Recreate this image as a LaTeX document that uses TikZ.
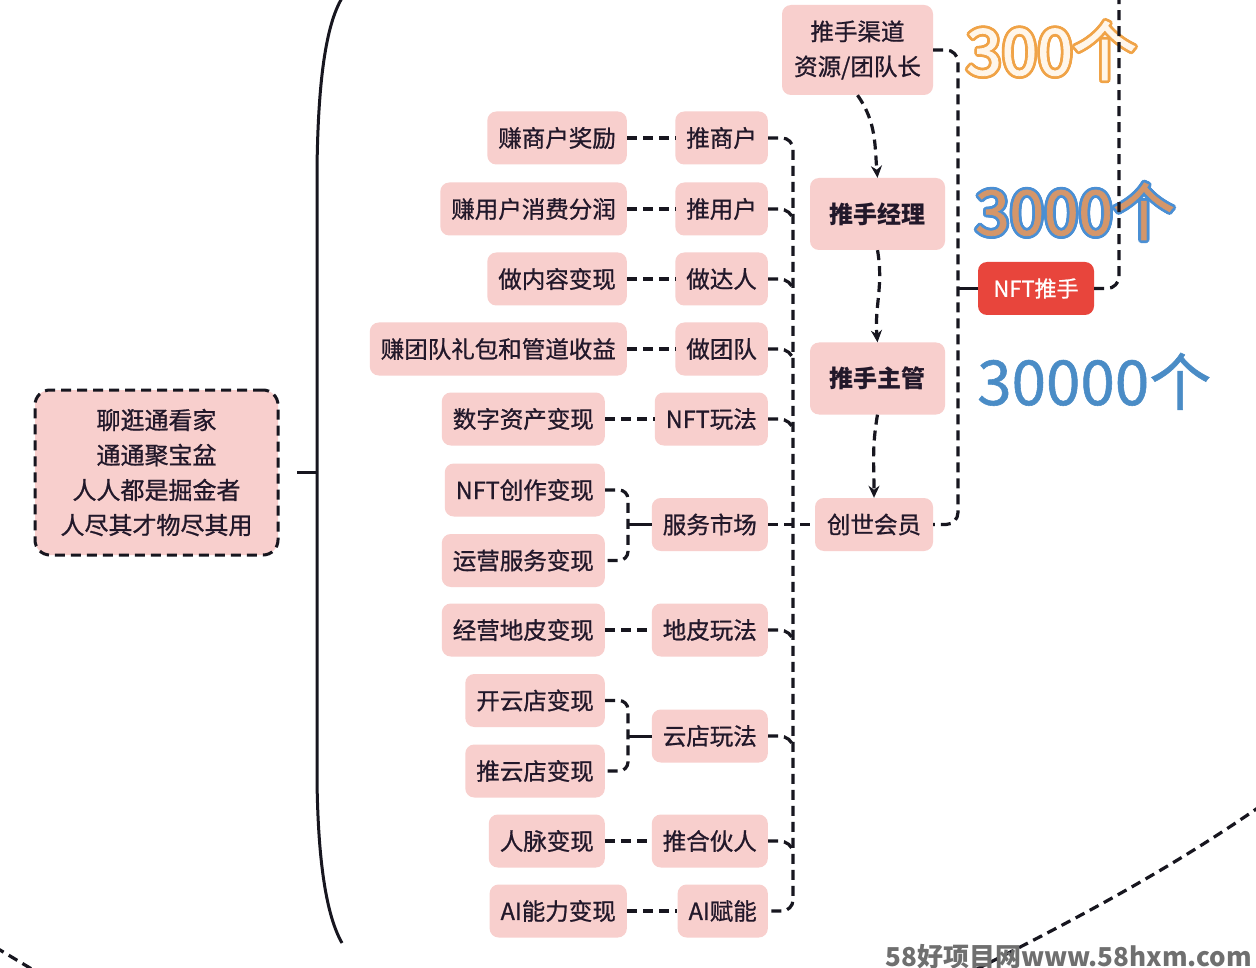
\documentclass[tikz,border=0pt]{standalone}
\usepackage{fontspec}
\setmainfont{Noto Sans CJK SC}
\newfontfamily\bodyf{Noto Sans CJK SC}[FakeBold=0.9]
\newfontfamily\numf{Noto Sans CJK SC}[FakeBold=1.2]
\usetikzlibrary{arrows.meta}
\definecolor{pinkc}{HTML}{F8CFCD}
\definecolor{txtc}{HTML}{22182A}
\definecolor{linec}{HTML}{17161F}
\definecolor{redc}{HTML}{E8453C}
\definecolor{orc}{HTML}{F0A347}
\definecolor{crm}{HTML}{FFF6EA}
\definecolor{bluc}{HTML}{4A8FD4}
\definecolor{tanc}{HTML}{D4966A}
\definecolor{blu2}{HTML}{4A8CC6}
\definecolor{wmc}{HTML}{6F6F6F}
\tikzset{
 pbox/.style={rectangle, rounded corners=9pt, fill=pinkc, text=txtc, minimum height=53pt, inner xsep=11pt, inner ysep=0pt, font=\bodyf\fontsize{23.5}{28}\selectfont},
 dl/.style={draw=linec, line width=3.2pt, dash pattern=on 10pt off 6pt},
 sl/.style={draw=linec, line width=3pt},
 arr/.style={dl, -{Stealth[length=12pt,width=11pt]}},
 bignum/.style={anchor=base west, inner sep=0pt, font=\numf\fontsize{64}{70}\selectfont},
}
\begin{document}
\begin{tikzpicture}[x=1pt,y=-1pt]
\fill[white] (0,0) rectangle (1256,968);
\useasboundingbox (0,0) rectangle (1256,968);

% big numbers
\coordinate (p300) at (966,75);
\foreach \a in {0,30,...,330} \node[bignum, text=orc, shift={(\a:2.8pt)}] at (p300) {300个};
\node[bignum, text=crm] (n300) at (p300) {300个};
\coordinate (p3000) at (975,235);
\foreach \a in {0,30,...,330} \node[bignum, text=bluc, font=\numf\fontsize{62}{66}\selectfont, shift={(\a:2.8pt)}] at (p3000) {3000个};
\node[bignum, text=tanc, font=\numf\fontsize{62}{66}\selectfont] (n3000) at (p3000) {3000个};
\node[bignum, text=blu2, font=\bodyf\fontsize{62}{66}\selectfont] (n30000) at (977,405) {30000个};

% root
\node[pbox, draw=linec, line width=3pt, dash pattern=on 10pt off 6pt, rounded corners=15pt, align=center, minimum width=243pt, minimum height=165pt, font=\bodyf\fontsize{24}{35}\selectfont] (root) at (156.5,472.5) {聊逛通看家\\通通聚宝盆\\人人都是掘金者\\人尽其才物尽其用};

% middle column
\node[pbox, anchor=east] (tsh) at (768,138) {推商户};
\node[pbox, anchor=east] (tyh) at (768,209) {推用户};
\node[pbox, anchor=east] (zdr) at (768,279) {做达人};
\node[pbox, anchor=east] (ztd) at (768,349) {做团队};
\node[pbox, anchor=east] (nfw) at (768,419) {NFT玩法};
\node[pbox, anchor=east] (fwsc) at (768,524.5) {服务市场};
\node[pbox, anchor=east] (dpw) at (768,630) {地皮玩法};
\node[pbox, anchor=east] (ydw) at (768,736) {云店玩法};
\node[pbox, anchor=east] (hhr) at (768,841) {推合伙人};
\node[pbox, anchor=east] (ai) at (768,911) {AI赋能};

% left column
\node[pbox, anchor=east] (zsh) at (627,138) {赚商户奖励};
\node[pbox, anchor=east] (zyh) at (627,209) {赚用户消费分润};
\node[pbox, anchor=east] (znr) at (627,279) {做内容变现};
\node[pbox, anchor=east] (ztl) at (627,349) {赚团队礼包和管道收益};
\node[pbox, anchor=east] (szc) at (605,419) {数字资产变现};
\node[pbox, anchor=east] (nftcz) at (605,490) {NFT创作变现};
\node[pbox, anchor=east] (yyfw) at (605,560.5) {运营服务变现};
\node[pbox, anchor=east] (jydp) at (605,630) {经营地皮变现};
\node[pbox, anchor=east] (kyd) at (605,700.5) {开云店变现};
\node[pbox, anchor=east] (tyd) at (605,771) {推云店变现};
\node[pbox, anchor=east] (rm) at (605,841) {人脉变现};
\node[pbox, anchor=east] (ainl) at (627,911) {AI能力变现};

% right column
\node[pbox, align=center, minimum width=151pt, minimum height=90pt, font=\bodyf\fontsize{23.5}{35}\selectfont] (qd) at (857.5,50) {推手渠道\\资源/团队长};
\node[pbox, font=\bfseries\fontsize{24}{28}\selectfont, minimum width=135pt, minimum height=72pt] (jl) at (877.5,214) {推手经理};
\node[pbox, font=\bfseries\fontsize{24}{28}\selectfont, minimum width=135pt, minimum height=72pt] (zg) at (877.5,378.5) {推手主管};
\node[pbox, minimum width=118pt] (cs) at (874,524.5) {创世会员};
\node[pbox, fill=redc, text=white, font=\bodyf\fontsize{22}{26}\selectfont, minimum width=116pt] (nt) at (1036,288.5) {NFT推手};

% arrows
\draw[arr] (qd.south) to[out=-55,in=95] (jl.north);
\draw[arr] (jl.south) to[out=-80,in=95] (zg.north);
\draw[arr] (zg.south) to[out=-100,in=90] (cs.north);

% left-middle links
\foreach \a/\b in {zsh/tsh,zyh/tyh,znr/zdr,ztl/ztd,szc/nfw,jydp/dpw,rm/hhr,ainl/ai}
  \draw[dl] (\a.east) -- (\b.west);

% brackets
\coordinate (b1T) at (628,490); \coordinate (b1B) at (628,560.5); \coordinate (b1M) at (628,524.5);
\draw[dl, rounded corners=9pt] (nftcz.east) -- (b1T) -- (b1B) -- (yyfw.east);
\draw[sl] (b1M) -- (fwsc.west);
\coordinate (b2T) at (628,700.5); \coordinate (b2B) at (628,771); \coordinate (b2M) at (628,736);
\draw[dl, rounded corners=9pt] (kyd.east) -- (b2T) -- (b2B) -- (tyd.east);
\draw[sl] (b2M) -- (ydw.west);

% middle bus
\coordinate (mbT) at (793,138); \coordinate (mbB) at (793,911);
\draw[dl, rounded corners=11pt] (tsh.east) -- (mbT) -- (mbB) -- (ai.east);
\foreach \n in {tyh,zdr,ztd,nfw,dpw,ydw,hhr}
  \draw[dl] (\n.east) -- ++(11,0) to[out=0,in=90] ++(14,12);
\draw[dl] (fwsc.east) -- (cs.west);

% right bus
\coordinate (rbT) at (958,50); \coordinate (rbB) at (958,524.5); \coordinate (rbN) at (958,288.5);
\draw[dl, rounded corners=12pt] (qd.east) -- (rbT) -- (rbB) -- (cs.east);
\draw[sl] (rbN) -- (nt.west);
\coordinate (nr) at (1119,288.5); \coordinate (topR) at (1119,-5);
\draw[dl, rounded corners=12pt] (nt.east) -- (nr) -- (topR);

% brace
\coordinate (brT) at (342,-2); \coordinate (brB) at (342,943);
\coordinate (tk1) at (297,472.5); \coordinate (tk2) at (317,472.5);
\draw[linec, line width=3pt] (brT) .. controls (326,25) and (318,80) .. (317,170) -- (317,780) .. controls (318,860) and (326,915) .. (brB);
\draw[sl] (tk1) -- (tk2);

% outer dashed arcs
\coordinate (arA) at (1262,805); \coordinate (arB) at (975,970);
\draw[dl] (arA) .. controls (1166,872) and (1070,922) .. (arB);
\coordinate (alA) at (-5,947); \coordinate (alB) at (35,971);
\draw[dl] (alA) -- (alB);

% watermark
\node[anchor=base east, text=wmc, font=\bfseries\fontsize{26}{30}\selectfont, inner sep=0pt] (wm) at (1252,966) {58好项目网www.58hxm.com};
\end{tikzpicture}
\end{document}
